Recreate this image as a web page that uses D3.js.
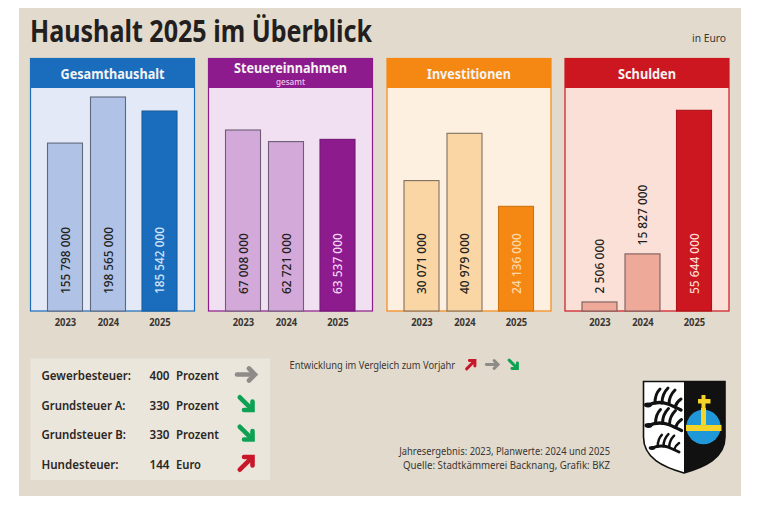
<!DOCTYPE html>
<html lang="de">
<head>
<meta charset="utf-8">
<script src="https://cdnjs.cloudflare.com/ajax/libs/d3/7.8.5/d3.min.js"></script>
<style>
  html, body { margin: 0; padding: 0; background: #fff; }
  svg { display: block; }
  text { font-family: "Noto Sans", sans-serif; }
</style>
</head>
<body>
<script>
const years = ['2023', '2024', '2025']
const gesamthaushalt = [155798000, 198565000, 185542000]
const steuereinnahmen = [67008000, 62721000, 63537000]
const investitionen = [30071000, 40979000, 24136000]
const schulden = [2506000, 15827000, 55644000]

const panelTitles = ['Gesamthaushalt', 'Steuereinnahmen', 'Investitionen', 'Schulden']
const panelValues = [gesamthaushalt, steuereinnahmen, investitionen, schulden]
const panelMax = [198565000, 67008000, 40979000, 55644000]

const taxNames = ['Gewerbesteuer:', 'Grundsteuer A:', 'Grundsteuer B:', 'Hundesteuer:']
const taxValues = [400, 330, 330, 144]
const taxUnits = ['Prozent', 'Prozent', 'Prozent', 'Euro']
const taxTrends = ['same', 'down', 'down', 'up']

const width = 768
const height = 512

const panelX = [30.5, 208.5, 387, 565]
const panelW = 164
const headerTop = 58.5
const headerBottom = 88
const baseline = 311
const barW = 35
const maxBarH = [214, 181, 177.7, 200.7]

const headerColors = ['#1a6dbd', '#8d1b8d', '#f58813', '#cd1720']
const panelFills = ['#e3e9f7', '#f0e0f2', '#fef0e0', '#fbe0d8']
const lightBars = ['#b0c3e6', '#d3a9d9', '#fbd6a5', '#efa999']
const lightLabels = ['#d5e6fa', '#f5d5f5', '#fdd9a8', '#fbdcd5']
const trendColors = { up: '#c9172a', same: '#8f8b88', down: '#0ea154' }

// the original face is narrower than Noto Sans, so widths are set by hand
const headerWidths = [104, 113, 84, 58]
const taxNameWidths = [89.5, 84, 84.5, 77]
const taxUnitWidths = [43, 43, 43, 25]

const fmt = v => d3.format(',')(v).replace(/,/g, ' ')
const labelLength = v => {
  const s = fmt(v)
  return s.replace(/ /g, '').length * 6.1 + 2 * 6
}
const fit = (sel, w) => sel.attr('textLength', w).attr('lengthAdjust', 'spacingAndGlyphs')

let svg = d3.select('body')
  .append('svg')
  .attr('width', width)
  .attr('height', height)

svg.append('rect')
  .attr('x', 19).attr('y', 8)
  .attr('width', 722).attr('height', 488)
  .attr('fill', '#e2dbcd')

svg.append('text')
  .attr('x', 30).attr('y', 41.5)
  .attr('font-size', 29.5)
  .attr('font-weight', 700)
  .attr('fill', '#231f20')
  .call(fit, 342)
  .text('Haushalt 2025 im Überblick')

svg.append('text')
  .attr('x', 692).attr('y', 42)
  .attr('font-size', 11)
  .attr('fill', '#3a3633')
  .call(fit, 34)
  .text('in Euro')

// one small-multiple per topic
panelTitles.forEach((title, p) => {
  const g = svg.append('g').attr('transform', `translate(${panelX[p]},0)`)
  const x = d3.scaleOrdinal(years, [34.5, 77.5, 129])
  const y = d3.scaleLinear()
    .domain([0, panelMax[p]])
    .range([baseline, baseline - maxBarH[p]])

  g.append('rect')
    .attr('y', headerTop)
    .attr('width', panelW)
    .attr('height', baseline - headerTop)
    .attr('fill', panelFills[p])
    .attr('stroke', headerColors[p])
    .attr('stroke-width', 1.2)

  g.append('rect')
    .attr('y', headerTop)
    .attr('width', panelW)
    .attr('height', headerBottom - headerTop)
    .attr('fill', headerColors[p])

  const rows = years.map((yr, i) => ({ yr, i, v: panelValues[p][i] }))
  const lightStroke = d3.interpolateRgb(lightBars[p], '#2a2a33')(0.6)

  g.selectAll('.bar')
    .data(rows)
    .enter()
    .append('rect')
    .attr('class', 'bar')
    .attr('x', d => x(d.yr) - barW / 2)
    .attr('y', d => y(d.v))
    .attr('width', barW)
    .attr('height', d => baseline - y(d.v))
    .attr('fill', d => d.i === 2 ? headerColors[p] : lightBars[p])
    .attr('stroke', d => d.i === 2 ? d3.color(headerColors[p]).darker(0.5) : lightStroke)
    .attr('stroke-width', 1.1)

  g.selectAll('.val')
    .data(rows)
    .enter()
    .append('text')
    .attr('class', 'val')
    .attr('transform', d => {
      // small bars carry the label above them
      const small = baseline - y(d.v) < 70
      const ty = small ? y(d.v) - 8.5 : 294
      return `translate(${x(d.yr) + 4.7},${ty}) rotate(-90)`
    })
    .attr('font-size', 13)
    .attr('font-weight', 500)
    .attr('fill', d => d.i === 2 ? lightLabels[p] : '#231f20')
    .attr('textLength', d => labelLength(d.v))
    .attr('lengthAdjust', 'spacingAndGlyphs')
    .text(d => fmt(d.v))

  const axis = d3.axisBottom(x).tickSize(0).tickPadding(0)
  const ag = g.append('g')
    .attr('transform', `translate(0,${baseline + 8})`)
    .call(axis)
  ag.select('.domain').remove()
  ag.selectAll('text')
    .attr('font-size', 10.5)
    .attr('font-weight', 700)
    .attr('font-family', '"Noto Sans", sans-serif')
    .attr('fill', '#3a3633')
    .call(fit, 21.5)

  const sub = title === 'Steuereinnahmen'
  g.append('text')
    .attr('x', panelW / 2)
    .attr('y', sub ? 73 : 79)
    .attr('text-anchor', 'middle')
    .attr('font-size', 14.5)
    .attr('font-weight', 700)
    .attr('fill', '#f4f4f4')
    .call(fit, headerWidths[p])
    .text(title)
  if (sub) {
    g.append('text')
      .attr('x', panelW / 2)
      .attr('y', 85)
      .attr('text-anchor', 'middle')
      .attr('font-size', 8.5)
      .attr('font-weight', 500)
      .attr('fill', '#eec9ee')
      .call(fit, 29)
      .text('gesamt')
  }
})

// arrow: thick shaft plus a right-angled head
function arrow(parent, cx, cy, k, trend) {
  const angle = { up: -45, same: 0, down: 45 }[trend]
  const a = parent.append('g')
    .attr('transform', `translate(${cx},${cy}) rotate(${angle}) scale(${k})`)
    .attr('fill', 'none')
    .attr('stroke', trendColors[trend])
    .attr('stroke-width', 4.6)
  a.append('path')
    .attr('stroke-linecap', 'round')
    .attr('d', d3.line()([[-9.5, 0], [6, 0]]))
  a.append('path')
    .attr('stroke-linejoin', 'miter')
    .attr('stroke-linecap', 'round')
    .attr('d', d3.line()([[2.5, -6], [8.5, 0], [2.5, 6]]))
}

svg.append('rect')
  .attr('x', 30.5).attr('y', 358.5)
  .attr('width', 239.5).attr('height', 121.5)
  .attr('fill', '#ebe6dc')

const rowY = d3.scalePoint(taxNames, [380, 468.5])
const taxRows = taxNames.map((name, i) => ({ name, i }))

const tg = svg.selectAll('.tax')
  .data(taxRows)
  .enter()
  .append('g')
  .attr('class', 'tax')
  .attr('transform', d => `translate(0,${rowY(d.name)})`)
  .attr('font-size', 12.5)
  .attr('font-weight', 600)
  .attr('fill', '#2b2725')

tg.append('text').attr('x', 41.5)
  .attr('textLength', d => taxNameWidths[d.i])
  .attr('lengthAdjust', 'spacingAndGlyphs')
  .text(d => d.name)
tg.append('text').attr('x', 149.5)
  .call(fit, 20)
  .text(d => taxValues[d.i])
tg.append('text').attr('x', 176)
  .attr('textLength', d => taxUnitWidths[d.i])
  .attr('lengthAdjust', 'spacingAndGlyphs')
  .text(d => taxUnits[d.i])
tg.each(function (d) {
  arrow(d3.select(this), 246.5, -5.5, 1, taxTrends[d.i])
})

svg.append('text')
  .attr('x', 289.5).attr('y', 369.3)
  .attr('font-size', 10.8)
  .attr('fill', '#3a3633')
  .call(fit, 165.7)
  .text('Entwicklung im Vergleich zum Vorjahr')

arrow(svg, 471, 364.5, 0.65, 'up')
arrow(svg, 492.5, 364.5, 0.65, 'same')
arrow(svg, 513.5, 364.5, 0.65, 'down')

const notes = ['Jahresergebnis: 2023, Planwerte: 2024 und 2025', 'Quelle: Stadtkämmerei Backnang, Grafik: BKZ']
const noteWidths = [210.7, 207]
svg.selectAll('.note')
  .data(notes)
  .enter()
  .append('text')
  .attr('class', 'note')
  .attr('x', (d, i) => 610 - noteWidths[i])
  .attr('y', (d, i) => 455 + i * 13.6)
  .attr('font-size', 10)
  .attr('fill', '#3a3633')
  .attr('textLength', (d, i) => noteWidths[i])
  .attr('lengthAdjust', 'spacingAndGlyphs')
  .text(d => d)

// coat of arms
const shieldPath = 'M643.5,381.5 H725 V437 C725,458 705,467 684,473 C663,467 643.5,458 643.5,437 Z'
const coat = svg.append('g')
coat.append('path').attr('d', shieldPath).attr('fill', '#fff')
coat.append('path')
  .attr('d', 'M684,381.5 H725 V437 C725,458 705,467 684,473 Z')
  .attr('fill', '#111')
coat.append('path')
  .attr('d', shieldPath)
  .attr('fill', 'none')
  .attr('stroke', '#111')
  .attr('stroke-width', 1.6)

const antlers = [
  { dx: 0, dy: 0, k: 1 },
  { dx: 0.5, dy: 20.5, k: 1 },
  { dx: 4, dy: 43, k: 0.82 }
]
antlers.forEach(a => {
  const ag = coat.append('g')
    .attr('transform', `translate(${648 + a.dx},${405 + a.dy}) scale(${a.k})`)
    .attr('fill', 'none')
    .attr('stroke', '#111')
    .attr('stroke-linecap', 'round')
  ag.append('path')
    .attr('stroke-width', 3.4)
    .attr('d', 'M0,0 C7,-3 14,-3 20,-1 C25,1 29,3 33,5')
  ag.append('path')
    .attr('stroke-width', 3)
    .attr('d', 'M7,-2 C7,-8 9,-13 12,-16 M14,-2 C14,-9 17,-14 20,-17 M21,-1 C21,-7 24,-12 27,-15 M27,2 C28,-1 30,-4 33,-6')
  ag.append('ellipse')
    .attr('cx', 0).attr('cy', 0).attr('rx', 4).attr('ry', 2.4)
    .attr('fill', '#111').attr('stroke', 'none')
})

coat.append('circle')
  .attr('cx', 703.5).attr('cy', 427).attr('r', 17.2)
  .attr('fill', '#1f97d8')

const yellow = [
  [686, 425, 35.5, 6],
  [701, 408, 5, 18],
  [701.5, 395, 4, 13],
  [698, 399, 12.5, 4.5]
]
coat.selectAll('.gold')
  .data(yellow)
  .enter()
  .append('rect')
  .attr('class', 'gold')
  .attr('x', d => d[0]).attr('y', d => d[1])
  .attr('width', d => d[2]).attr('height', d => d[3])
  .attr('fill', '#f5d327')
</script>
</body>
</html>
